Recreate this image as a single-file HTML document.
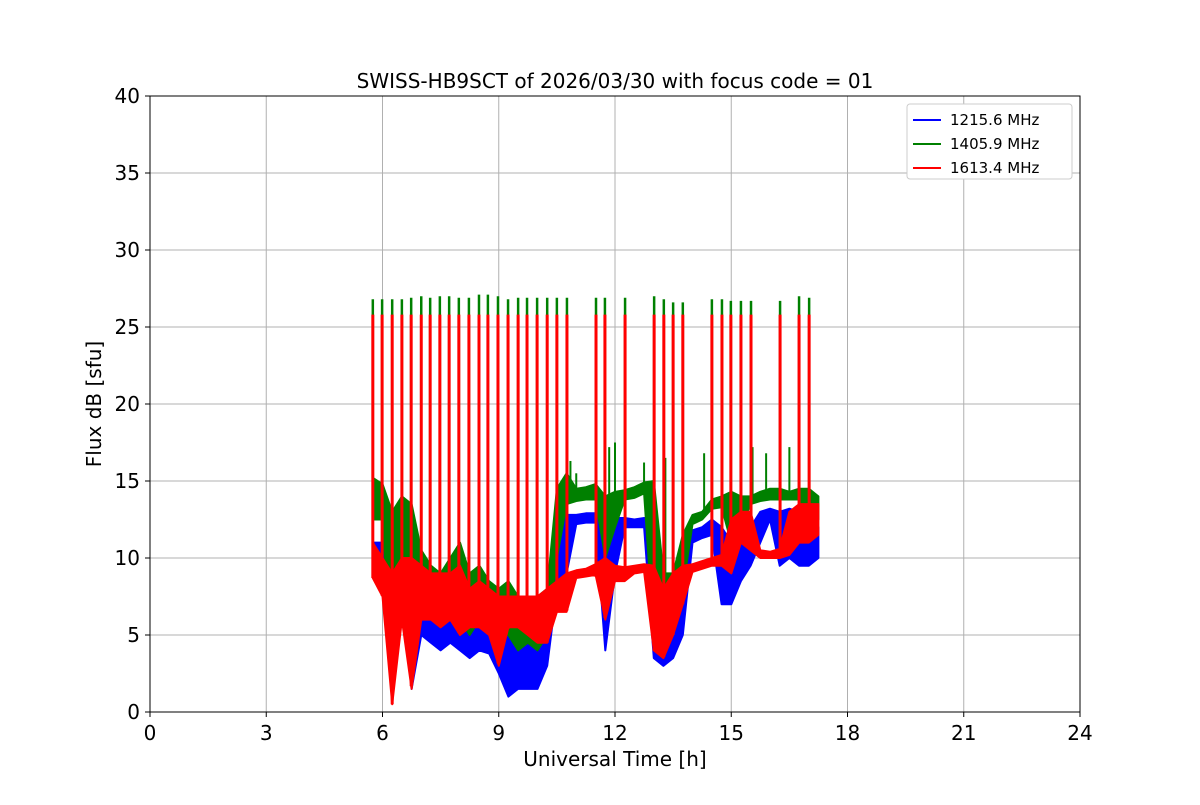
<!DOCTYPE html>
<html><head><meta charset="utf-8"><style>
body{margin:0;background:#fff}
svg text{font-family:"DejaVu Sans","Liberation Sans",sans-serif;fill:#000}
</style></head><body>
<svg id="chart" width="1200" height="800" xmlns="http://www.w3.org/2000/svg">
<rect width="1200" height="800" fill="#fff"/>
<g id="grid"></g><g id="series"></g>
<rect x="150" y="96" width="930" height="616" fill="none" stroke="#000" stroke-width="1"/>
<g id="axes"></g>
<text x="615" y="88" text-anchor="middle" font-size="20">SWISS-HB9SCT of 2026/03/30 with focus code = 01</text>
<text x="615" y="766" text-anchor="middle" font-size="20">Universal Time [h]</text>
<text transform="translate(101,404) rotate(-90)" text-anchor="middle" font-size="20">Flux dB [sfu]</text>
<g>
<rect x="907" y="104" width="165" height="75" rx="3" fill="#fff" stroke="#ccc"/>
<g id="legend"></g>
</g>
</svg>
<script>
const times=[5.75,6,6.25,6.5,6.75,7,7.25,7.5,7.75,8,8.25,8.5,8.75,9,9.25,9.5,9.75,10,10.25,10.5,10.75,11,11.25,11.5,11.75,12,12.25,12.5,12.75,13,13.25,13.5,13.75,14,14.25,14.5,14.75,15,15.25,15.5,15.75,16,16.25,16.5,16.75,17,17.25];
const blueHi=[11,11,10,11,10.5,8,7.5,7,7.5,7,6.5,7,6.5,6,6,5.5,6,6,7,12,12.8,12.8,12.9,12.9,12.6,12.6,12.6,12.5,12.6,12.5,8,7,9,11.8,12,12.5,12,11,11.5,12,13,13.2,13,13.2,13,12.5,12];
const blueLo=[9,8.5,1,8,1.5,5,4.5,4,4.5,4,3.5,4,3.8,2.5,1,1.5,1.5,1.5,3,8,9,12.2,12.3,12.3,4,9,12,12,12,3.5,3,3.5,5,11,11.3,11.5,7,7,8.5,9.5,11,12.5,9.5,10,9.5,9.5,10];
const greenHi=[15.2,14.8,13,14,13.5,10.5,9.5,9,10,11,9,9.5,8.5,8,8.5,7.5,7.5,7.5,8,14.5,15.5,14.5,14.6,14.8,14,14.3,14.4,14.6,14.9,15,9,9,11.5,12.8,13,13.8,14,14.3,14,14,14.3,14.5,14.5,14.3,14.5,14.5,14];
const greenLo=[12.5,12.5,3,10,8,7,7,6.5,7,6,5,6,5.5,5,5,4,4.5,4,5,10,13.5,13.7,13.8,13.8,10,12,13.8,13.9,14.2,5,5,5,8,12.2,12.5,13.2,13.3,11,12,13.5,13.7,13.8,13.8,13.8,13.8,12.5,12.5];
const redHi=[11,10,9,10,10,9.5,9,9,9,9.5,8,8.5,8,7.5,7.5,7.5,7.5,7.5,8,8.5,9,9.2,9.3,9.6,10,9.5,9.4,9.5,9.6,9.5,8,9,9.5,9.6,9.8,10,10.2,12.5,13,13,10.5,10.4,10.6,13,13.5,13.5,13.5];
const redLo=[8.7,7.5,0.5,6,1.5,6,6,5.5,6,5,5.5,5.5,5,3,5.5,5.5,5,4.5,4.5,6.5,6.5,8.7,8.8,8.9,6,8.5,8.5,9,9.1,4,3.5,5,7,9.1,9.3,9.5,9.5,9,11,10.5,10,10,10,10.2,11,11,11.5];
const spikeTimes=[5.75,5.99,6.25,6.5,6.74,7,7.23,7.48,7.72,7.97,8.23,8.49,8.72,8.98,9.24,9.5,9.73,9.99,10.25,10.5,10.76,11.51,11.74,12.26,13.01,13.26,13.5,13.75,14.5,14.76,14.99,15.25,15.51,16.26,16.75,17.01];
const greenPeaks=[26.8,26.8,26.8,26.8,26.9,27,26.9,27,27,26.9,26.9,27.1,27.1,27,26.8,26.9,26.9,26.9,26.9,26.9,26.9,26.9,26.9,26.9,27,26.8,26.6,26.6,26.8,26.8,26.7,26.7,26.7,26.7,27,26.9];
const redPeaks=spikeTimes.map(()=>25.8);
const minorGreenTimes=[10.85,11.0,11.85,12.0,12.75,13.3,14.3,15.55,15.9,16.5];
const minorGreenPeaks=[16.3,15.5,17.2,17.5,16.2,16.5,16.8,17.2,16.8,17.2];
const xTicks=[0,3,6,9,12,15,18,21,24];
const yTicks=[0,5,10,15,20,25,30,35,40];
const seriesNames=["1215.6 MHz","1405.9 MHz","1613.4 MHz"];

const X=h=>150+h*930/24, Y=v=>712-v*616/40;
const NS="http://www.w3.org/2000/svg";
function mk(tag,attrs,parent){const e=document.createElementNS(NS,tag);for(const k in attrs)e.setAttribute(k,attrs[k]);parent.appendChild(e);return e;}
const grid=document.getElementById('grid'),axes=document.getElementById('axes'),ser=document.getElementById('series'),leg=document.getElementById('legend');
xTicks.forEach(t=>{
  const l=mk('line',{x1:X(t),x2:X(t),y1:96,y2:712,stroke:'#b0b0b0','stroke-width':1},grid);
  
  
  mk('line',{x1:X(t),x2:X(t),y1:712,y2:717,stroke:'#000'},axes);
  const tx=mk('text',{x:X(t),y:740,'text-anchor':'middle','font-size':20},axes);tx.textContent=t;
  
  
});
yTicks.forEach(t=>{
  const l=mk('line',{x1:150,x2:1080,y1:Y(t),y2:Y(t),stroke:'#b0b0b0','stroke-width':1},grid);
  
  
  mk('line',{x1:145,x2:150,y1:Y(t),y2:Y(t),stroke:'#000'},axes);
  const tx=mk('text',{x:140,y:Y(t)+7,'text-anchor':'end','font-size':20},axes);tx.textContent=t;
  
  
});
function band(hi,lo,color,name){
  let d='M'+times.map((t,i)=>X(t).toFixed(1)+','+Y(hi[i]).toFixed(1)).join('L');
  for(let i=times.length-1;i>=0;i--)d+='L'+X(times[i]).toFixed(1)+','+Y(lo[i]).toFixed(1);
  const p=mk('path',{d:d+'Z',fill:color,stroke:color,'stroke-width':2,'stroke-linejoin':'round'},ser);
  
  
}
function interp(arr,t){for(let i=0;i<times.length-1;i++){if(t<=times[i+1]){const f=(t-times[i])/(times[i+1]-times[i]);return arr[i]+f*(arr[i+1]-arr[i]);}}return arr[arr.length-1];}
function spikes(ts,peaks,base,color,name,w){
  ts.forEach((t,i)=>{const l=mk('line',{x1:X(t),x2:X(t),y1:Y(base(t)),y2:Y(peaks[i]),stroke:color,'stroke-width':w},ser);
  
  });
}
band(blueHi,blueLo,'#0000ff','series-1215-band');
band(greenHi,greenLo,'#008000','series-1405-band');
spikes(spikeTimes,greenPeaks,t=>interp(greenLo,t),'#008000','series-1405-spike',2.5);
spikes(minorGreenTimes,minorGreenPeaks,t=>interp(greenLo,t),'#008000','series-1405-minor-spike',2);
band(redHi,redLo,'#ff0000','series-1613-band');
spikes(spikeTimes,redPeaks,t=>interp(redLo,t),'#ff0000','series-1613-spike',3);
['#0000ff','#008000','#ff0000'].forEach((c,i)=>{
  const y=120+i*24;
  const l=mk('line',{x1:913,x2:941,y1:y,y2:y,stroke:c,'stroke-width':2},leg);
  
  
  const tx=mk('text',{x:950,y:y+5,'font-size':15},leg);tx.textContent=seriesNames[i];
  
  
});
</script>
</body></html>
